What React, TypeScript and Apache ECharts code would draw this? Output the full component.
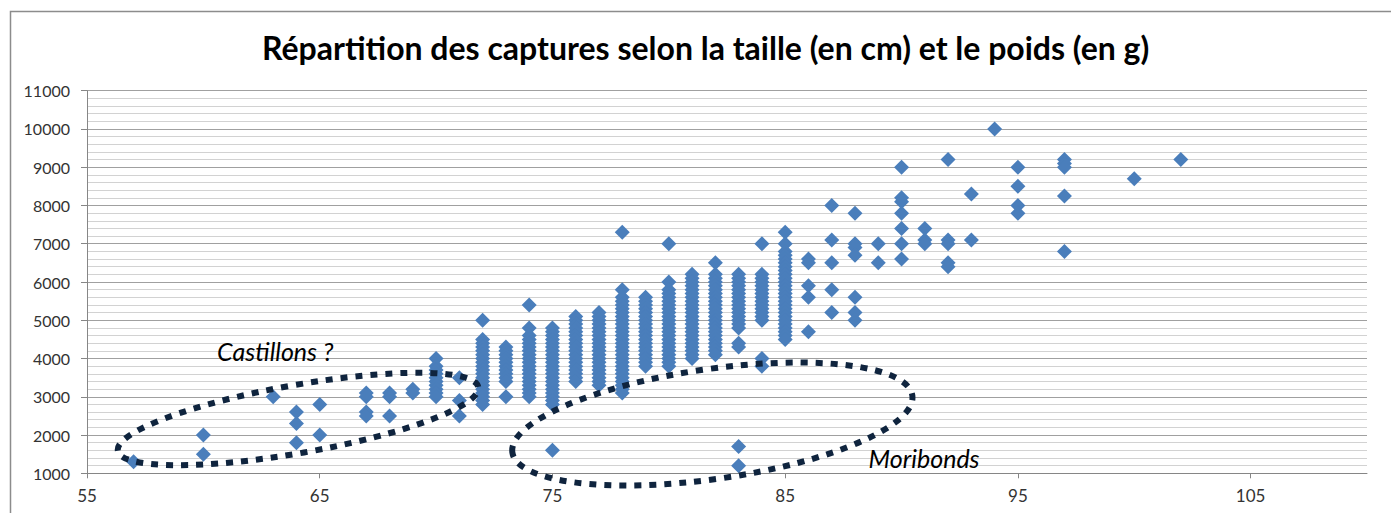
import React, { useEffect, useRef } from "react";
import * as echarts from "echarts";

const TITLE = "Répartition des captures selon la taille (en cm) et le poids (en g)";

// Taille (cm) of each column of captures
const sizes = [57, 60, 63, 64, 65, 67, 68, 69, 70, 71, 72, 73, 74, 75, 76, 77, 78, 79, 80, 81, 82, 83, 84, 85, 86, 87, 88, 89, 90, 91, 92, 93, 94, 95, 97, 100, 102];

// Poids (g) of the captures, one list per size above
const weights = [
  [1300],
  [2000, 1500],
  [3000],
  [2600, 2300, 1800],
  [2800, 2000],
  [3100, 3000, 2600, 2500],
  [3100, 3000, 2500],
  [3200, 3100],
  [4000, 3800, 3700, 3600, 3500, 3400, 3300, 3200, 3100, 3000],
  [3500, 2900, 2500],
  [5000, 4500, 4400, 4300, 4200, 4100, 4000, 3900, 3800, 3700, 3600, 3500, 3400, 3300, 3200, 3100, 3000, 2900, 2800],
  [4300, 4200, 4100, 4000, 3900, 3800, 3700, 3600, 3500, 3400, 3000],
  [5400, 4800, 4600, 4500, 4400, 4300, 4200, 4100, 4000, 3900, 3800, 3700, 3600, 3500, 3400, 3300, 3200, 3100, 3000],
  [4800, 4700, 4600, 4500, 4400, 4300, 4200, 4100, 4000, 3900, 3800, 3700, 3600, 3500, 3400, 3300, 3200, 3100, 3000, 2900, 2800, 1600],
  [5100, 5000, 4900, 4800, 4700, 4600, 4500, 4400, 4300, 4200, 4100, 4000, 3900, 3800, 3700, 3600, 3500, 3400],
  [5200, 5100, 5000, 4900, 4800, 4700, 4600, 4500, 4400, 4300, 4200, 4100, 4000, 3900, 3800, 3700, 3600, 3500, 3400, 3300],
  [7300, 5800, 5600, 5500, 5400, 5300, 5200, 5100, 5000, 4900, 4800, 4700, 4600, 4500, 4400, 4300, 4200, 4100, 4000, 3900, 3800, 3700, 3600, 3500, 3400, 3300, 3200, 3100],
  [5600, 5500, 5400, 5300, 5200, 5100, 5000, 4900, 4800, 4700, 4600, 4500, 4400, 4300, 4200, 4100, 4000, 3900, 3800],
  [7000, 6000, 5800, 5700, 5600, 5500, 5400, 5300, 5200, 5100, 5000, 4900, 4800, 4700, 4600, 4500, 4400, 4300, 4200, 4100, 4000, 3900, 3800],
  [6200, 6100, 6000, 5900, 5800, 5700, 5600, 5500, 5400, 5300, 5200, 5100, 5000, 4900, 4800, 4700, 4600, 4500, 4400, 4300, 4200, 4100, 4000],
  [6500, 6200, 6100, 6000, 5900, 5800, 5700, 5600, 5500, 5400, 5300, 5200, 5100, 5000, 4900, 4800, 4700, 4600, 4500, 4400, 4300, 4200, 4100],
  [6200, 6100, 6000, 5900, 5800, 5700, 5600, 5500, 5400, 5300, 5200, 5100, 5000, 4900, 4800, 4400, 4300, 1700, 1200],
  [7000, 6200, 6100, 6000, 5900, 5800, 5700, 5600, 5500, 5400, 5300, 5200, 5100, 5000, 4000, 3800],
  [7300, 7000, 6800, 6700, 6600, 6500, 6400, 6300, 6200, 6100, 6000, 5900, 5800, 5700, 5600, 5500, 5400, 5300, 5200, 5100, 5000, 4900, 4800, 4700, 4600, 4500],
  [6600, 6500, 5900, 5600, 4700],
  [8000, 7100, 6500, 5800, 5200],
  [7800, 7000, 6900, 6700, 5600, 5200, 5000],
  [7000, 6500],
  [9000, 8200, 8100, 7800, 7400, 7000, 6600],
  [7400, 7100, 7000],
  [9200, 7100, 7000, 6500, 6400],
  [8300, 7100],
  [10000],
  [9000, 8500, 8000, 7800],
  [9200, 9100, 9000, 8250, 6800],
  [8700],
  [9200],
];

const xTickValues = [55, 65, 75, 85, 95, 105];
const yMin = 1000;
const yMax = 11000;
const yStep = 1000;

// Annotations (anchored in data coordinates)
const groupLabels = ["Castillons ?", "Moribonds"];
const groupLabelAnchors: [number, number][] = [[60.59, 4197], [88.58, 1400]];
const ellipseCenters: [number, number][] = [[64.07, 2420], [81.87, 2289]];

const FONT = "Lato, 'Open Sans', sans-serif";

export default function App() {
  const ref = useRef<HTMLDivElement>(null);

  useEffect(() => {
    if (!ref.current) return;
    const chart = echarts.init(ref.current, undefined, { renderer: "svg" });

    const data: [number, number][] = [];
    sizes.forEach((s, i) => {
      weights[i].forEach((w) => data.push([s, w]));
    });

    const axisColor = "#868686";
    chart.setOption({
      animation: false,
      backgroundColor: "#ffffff",
      title: {
        text: TITLE,
        left: 262,
        top: 31,
        padding: 0,
        textStyle: { fontFamily: FONT, fontWeight: "bold", fontSize: 32, color: "#000000" },
      },
      grid: { left: 87, right: 24, top: 90.7, bottom: 39.7 },
      xAxis: {
        type: "value",
        min: 55,
        max: 110,
        axisLine: { show: true, onZero: false, lineStyle: { color: axisColor } },
        axisTick: { show: true, length: 5, customValues: xTickValues, lineStyle: { color: axisColor } },
        axisLabel: {
          customValues: xTickValues,
          margin: 14,
          fontFamily: FONT,
          fontSize: 17,
          color: "#333333",
          formatter: (v: number) => String(v),
        },
        splitLine: { show: false },
      },
      yAxis: {
        type: "value",
        min: yMin,
        max: yMax,
        interval: yStep,
        axisLine: { show: true, onZero: false, lineStyle: { color: axisColor } },
        axisTick: { show: true, length: 6, lineStyle: { color: axisColor } },
        axisLabel: {
          margin: 17,
          fontFamily: FONT,
          fontSize: 16,
          color: "#333333",
          formatter: (v: number) => String(v),
        },
        splitLine: { show: true, lineStyle: { color: "#a0a0a0", width: 1 } },
        minorTick: { show: false, splitNumber: 5 },
        minorSplitLine: { show: true, lineStyle: { color: "#d2d2d2", width: 1 } },
      },
      series: [
        {
          type: "scatter",
          symbol: "diamond",
          symbolSize: 15,
          itemStyle: { color: "#4a7ebb", opacity: 1 },
          data,
        },
      ],
    });

    const c1 = chart.convertToPixel({ gridIndex: 0 }, ellipseCenters[0]) as number[];
    const c2 = chart.convertToPixel({ gridIndex: 0 }, ellipseCenters[1]) as number[];
    const t1 = chart.convertToPixel({ gridIndex: 0 }, groupLabelAnchors[0]) as number[];
    const t2 = chart.convertToPixel({ gridIndex: 0 }, groupLabelAnchors[1]) as number[];
    const dashStyle = { fill: "none", stroke: "#0f243e", lineWidth: 6, lineDash: [7, 8] };
    const labelStyle = { fontFamily: FONT, fontStyle: "italic", fontSize: 25, fill: "#000000", align: "left", verticalAlign: "middle" };

    chart.setOption({
      graphic: [
        {
          type: "rect",
          silent: true,
          shape: { x: 10.5, y: 11.5, width: 1420, height: 560 },
          style: { fill: "none", stroke: "#8c8c8c", lineWidth: 1.5 },
          z: 0,
        },
        {
          type: "ellipse",
          x: c1[0],
          y: c1[1],
          rotation: 0.175,
          shape: { cx: 0, cy: 0, rx: 183, ry: 34 },
          style: dashStyle,
          z: 100,
        },
        {
          type: "ellipse",
          x: c2[0],
          y: c2[1],
          rotation: 0.141,
          shape: { cx: 0, cy: 0, rx: 202, ry: 55 },
          style: dashStyle,
          z: 100,
        },
        {
          type: "text",
          x: t1[0],
          y: t1[1],
          style: { ...labelStyle, text: groupLabels[0] },
          z: 100,
        },
        {
          type: "text",
          x: t2[0],
          y: t2[1],
          style: { ...labelStyle, text: groupLabels[1] },
          z: 100,
        },
      ],
    });

    return () => chart.dispose();
  }, []);

  return (
    <div
      ref={ref}
      style={{ position: "fixed", left: 0, top: 0, width: 1391, height: 513, background: "#ffffff" }}
    />
  );
}
